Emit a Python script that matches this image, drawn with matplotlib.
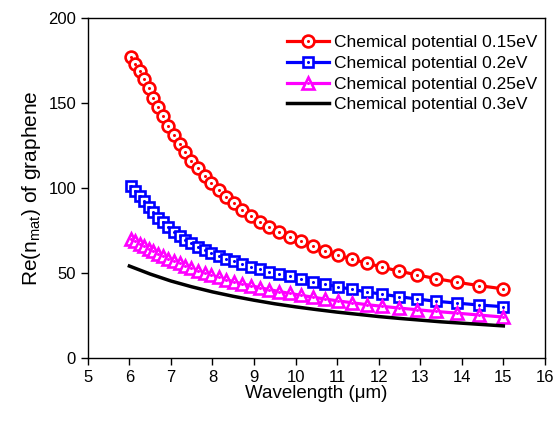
import matplotlib
matplotlib.use("Agg")
import matplotlib.pyplot as plt
from matplotlib.legend_handler import HandlerTuple

plt.rcParams['font.family'] = ['Liberation Sans', 'DejaVu Sans']
plt.rcParams['mathtext.fontset'] = 'custom'
plt.rcParams['mathtext.rm'] = 'Liberation Sans'
plt.rcParams['mathtext.it'] = 'Liberation Sans'

# wavelength grid of the marked series (um)
wavelength = [6.04, 6.14, 6.25, 6.35, 6.46, 6.57, 6.69, 6.81, 6.94, 7.07,
              7.21, 7.35, 7.49, 7.65, 7.81, 7.97, 8.15, 8.33, 8.52, 8.71,
              8.92, 9.14, 9.37, 9.61, 9.86, 10.13, 10.41, 10.71, 11.02, 11.36,
              11.71, 12.09, 12.49, 12.92, 13.38, 13.88, 14.41, 14.99]

re_n_015 = [177, 173, 168.5, 164, 158.5, 153, 147.5, 142, 136.5, 131,
            126, 121, 116, 111.5, 107, 103, 98.5, 94.5, 91, 87,
            83.5, 80, 77, 74, 71, 68.5, 65.7, 63, 60.5, 58,
            55.7, 53.3, 51, 48.8, 46.6, 44.5, 42.5, 40.6]

re_n_020 = [101, 98, 95, 92, 88.5, 85.5, 82.5, 79.8, 77, 74.3,
            71.8, 69.5, 67.3, 65.2, 63.3, 61.5, 59.8, 58.2, 56.7, 55.2,
            53.7, 52.2, 50.7, 49.3, 47.9, 46.4, 44.9, 43.3, 41.8, 40.3,
            38.8, 37.4, 36, 34.6, 33.3, 32.2, 31.1, 30.1]

re_n_025 = [70, 68.6, 67, 65.6, 64.1, 62.7, 61.2, 59.8, 58.3, 56.9,
            55.5, 54.1, 52.7, 51.3, 49.9, 48.6, 47.3, 46, 44.7, 43.6,
            42.5, 41.3, 40.1, 39, 37.9, 36.8, 35.7, 34.6, 33.5, 32.4,
            31.3, 30.3, 29.3, 28.3, 27.3, 26.3, 25.2, 24]

# 0.3 eV curve is a plain line
wavelength_03 = [6.0, 6.5, 7.0, 7.5, 8.0, 8.5, 9.0, 9.5, 10.0, 10.5,
                 11.0, 11.5, 12.0, 12.5, 13.0, 13.5, 14.0, 14.5, 15.0]
re_n_030 = [54, 49.3, 45.2, 41.8, 38.8, 36.2, 33.9, 31.8, 30.0, 28.4,
            26.9, 25.6, 24.3, 23.2, 22.2, 21.2, 20.4, 19.6, 18.8]

labels = ["Chemical potential 0.15eV", "Chemical potential 0.2eV",
          "Chemical potential 0.25eV", "Chemical potential 0.3eV"]


fig = plt.figure(figsize=(5.56, 4.24), dpi=100)
ax = fig.add_axes([0.158, 0.156, 0.822, 0.802])

handles = []
series = [(re_n_015, '#ff0000', 'o', 8.5),
          (re_n_020, '#0000ff', 's', 7.5),
          (re_n_025, '#ff00ff', '^', 9.0)]
for values, color, marker, ms in series:
    line, = ax.plot(wavelength, values, color=color, lw=2.3, marker=marker,
                    ms=ms, mfc='white', mec=color, mew=1.9)
    dot, = ax.plot(wavelength, values, ls='none', marker='o', ms=2.2,
                   color=color, mew=0)
    handles.append((line, dot))

black, = ax.plot(wavelength_03, re_n_030, color='black', lw=2.5)
handles.append(black)

ax.set_xlim(5, 16)
ax.set_ylim(0, 200)
ax.set_xticks(range(5, 17))
ax.set_yticks([0, 50, 100, 150, 200])
ax.tick_params(direction='out', length=5, width=1, labelsize=12,
               top=False, right=False)
for sp in ax.spines.values():
    sp.set_linewidth(1)

ax.set_xlabel('Wavelength (μm)', fontsize=13.5, labelpad=0)
ax.set_ylabel(r'Re(n$_{\mathregular{mat}}$) of graphene', fontsize=15, labelpad=4)

ax.legend(handles, labels, loc='upper right', bbox_to_anchor=(0.999, 0.9695),
          frameon=False, fontsize=12.5, handlelength=2.4, handletextpad=0.3,
          labelspacing=0.32, borderaxespad=0,
          handler_map={tuple: HandlerTuple(ndivide=1)})

fig.savefig('out.png', dpi=100)
